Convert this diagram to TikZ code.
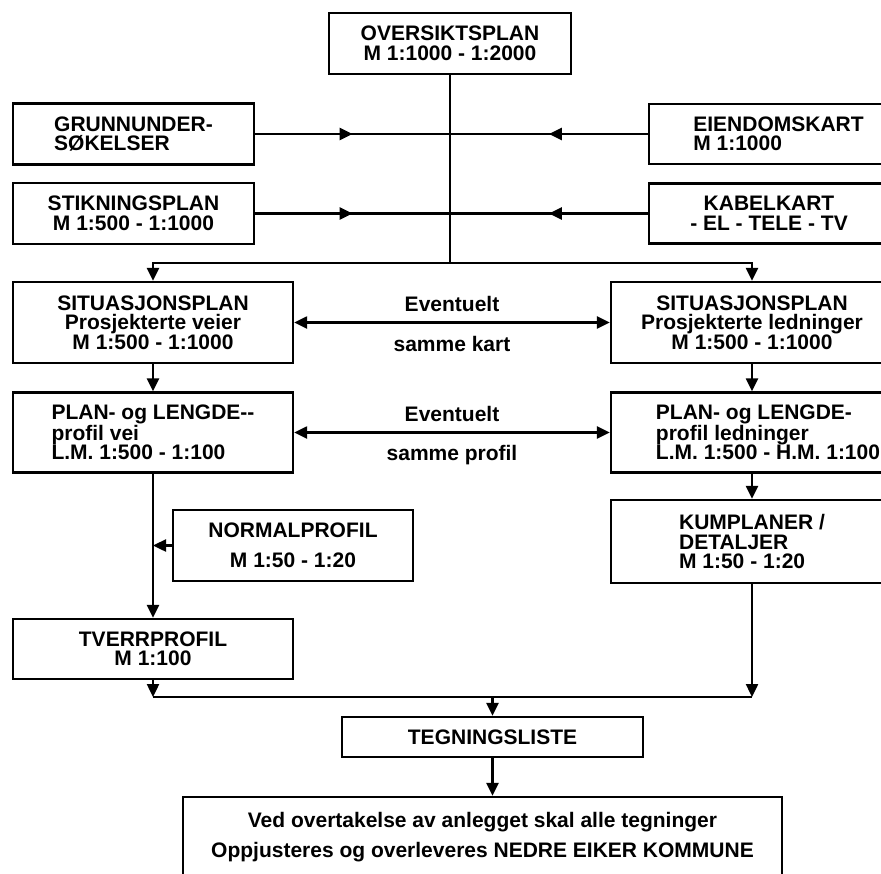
\documentclass[tikz,border=0pt]{standalone}
\usepackage{fontspec}
\setmainfont{Liberation Sans}
\usetikzlibrary{arrows.meta,decorations.markings}

\begin{document}
\begin{tikzpicture}[x=1pt, y=-1pt, line width=2.4pt,
    font=\fontsize{21}{19.5}\selectfont\bfseries,
    >={Triangle[length=13pt,width=12pt]},
    box/.style={draw, inner sep=0pt, align=center},
    lbl/.style={inner sep=0pt},
    midarrow/.style={postaction={decorate}, decoration={markings,
        mark=at position 0.5 with {\arrow{>}}}}]
    \clip (0,0) rectangle (881,873);
    \node[box, minimum width=242pt, minimum height=61pt] (over) at (450,43.5) {OVERSIKTSPLAN\\M 1:1000 - 1:2000};
    \node[box, align=left, minimum width=241pt, minimum height=61pt] (grunn) at (133.5,134) {GRUNNUNDER-\\SØKELSER};
    \node[box, align=left, minimum width=259pt, minimum height=60pt] (eiend) at (778.5,134) {EIENDOMSKART\\M 1:1000};
    \node[box, minimum width=241pt, minimum height=61pt] (stikn) at (133.5,213.5) {STIKNINGSPLAN\\M 1:500 - 1:1000};
    \node[box, minimum width=240pt, minimum height=60pt] (kabel) at (769,213.5) {KABELKART\\- EL - TELE - TV};
    \node[box, minimum width=280pt, minimum height=81pt] (sitL) at (153,322.5) {SITUASJONSPLAN\\Prosjekterte veier\\M 1:500 - 1:1000};
    \node[box, minimum width=282pt, minimum height=81pt] (sitR) at (752,322.5) {SITUASJONSPLAN\\Prosjekterte ledninger\\M 1:500 - 1:1000};
    \node[box, align=left, minimum width=280pt, minimum height=80pt] (planL) at (153,432.5) {PLAN- og LENGDE-{}-\\profil vei\\L.M. 1:500 - 1:100};
    \node[box, align=left, minimum width=314pt, minimum height=80pt] (planR) at (768,432.5) {PLAN- og LENGDE-\\profil ledninger\\L.M. 1:500 - H.M. 1:100};
    \node[box, minimum width=240pt, minimum height=71pt] (normal) at (293,545.5) {NORMALPROFIL\\[10pt]M 1:50 - 1:20};
    \node[box, align=left, minimum width=282pt, minimum height=83pt] (kump) at (752,541.5) {KUMPLANER /\\DETALJER\\M 1:50 - 1:20};
    \node[box, minimum width=280pt, minimum height=60pt] (tverr) at (153,649) {TVERRPROFIL\\M 1:100};
    \node[box, minimum width=301pt, minimum height=40pt] (tegn) at (492.5,737) {TEGNINGSLISTE};
    \node[box, minimum width=599pt, minimum height=80pt] (final) at (482.5,837) {Ved overtakelse av anlegget skal alle tegninger\\[10pt]Oppjusteres og overleveres NEDRE EIKER KOMMUNE};
    \coordinate (jt) at (450,263);
    \coordinate (jb) at (492.5,697);
    % trunk from the overview plan
    \draw (over) -- (jt);
    \draw[->] (jt) -| (sitL.north);
    \draw[->] (jt) -| (sitR.north);
    \draw[midarrow] (grunn.east) -- (grunn.east -| jt);
    \draw[midarrow] (eiend.west) -- (eiend.west -| jt);
    \draw[midarrow] (stikn.east) -- (stikn.east -| jt);
    \draw[midarrow] (kabel.west) -- (kabel.west -| jt);
    % the two columns
    \draw[<->] (sitL) -- (sitR)
        node[lbl, midway, above=10pt] (ev1) {Eventuelt}
        node[lbl, midway, below=13pt] (kart) {samme kart};
    \draw[<->] (planL) -- (planR)
        node[lbl, midway, above=10pt] (ev2) {Eventuelt}
        node[lbl, midway, below=12pt] (prof) {samme profil};
    \draw[->] (sitL) -- (planL);
    \draw[->] (sitR.south) -- (sitR.south |- planR.north);
    \draw[->] (kump.north |- planR.south) -- (kump);
    \draw[->] (planL) -- (tverr);
    \draw[->] (normal.west) -- (normal.west -| planL.south);
    % gathering at the bottom
    \draw (tverr |- jb) -- (kump |- jb);
    \draw[->] (tverr) -- (tverr |- jb);
    \draw[->] (kump) -- (kump |- jb);
    \draw[->] (jb) -- (tegn);
    \draw[->] (tegn) -- (tegn |- final.north);
\end{tikzpicture}
\end{document}
